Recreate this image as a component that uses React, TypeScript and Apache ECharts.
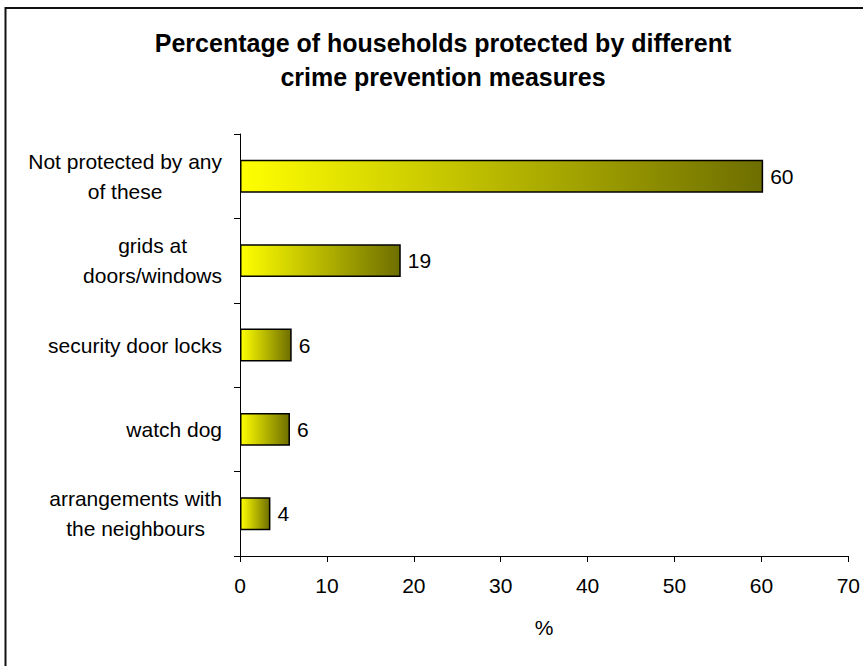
import React, { useEffect, useRef } from "react";
import * as echarts from "echarts";

const categories: string[] = [
  "Not protected by any\nof these",
  "grids at\ndoors/windows",
  "security door locks",
  "watch dog",
  "arrangements with\nthe neighbours",
];
const values: number[] = [60.2, 18.5, 5.95, 5.75, 3.5];
const xTicks = { min: 0, max: 70, interval: 10 };
const titleLines: string[] = [
  "Percentage of households protected by different",
  "crime prevention measures",
];
const xAxisName = "%";

const FONT = "'Liberation Sans', Arial, sans-serif";

export default function App() {
  const ref = useRef<HTMLDivElement>(null);
  useEffect(() => {
    document.body.style.margin = "0";
    const chart = echarts.init(ref.current!, null, { renderer: "svg" });
    const gradient = new echarts.graphic.LinearGradient(0, 0, 1, 0, [
      { offset: 0, color: "#FFFF00" },
      { offset: 1, color: "#6E6E00" },
    ]);
    chart.setOption({
      animation: false,
      backgroundColor: "#ffffff",
      title: {
        text: titleLines.join("\n"),
        left: 443,
        top: 26,
        padding: 0,
        textAlign: "center",
        textStyle: {
          fontFamily: FONT,
          fontSize: 25,
          fontWeight: "bold",
          color: "#000",
          lineHeight: 34,
        },
      },
      graphic: [
        {
          type: "rect",
          shape: { x: 5.5, y: 8, width: 900, height: 700 },
          style: { fill: "none", stroke: "#111", lineWidth: 2 },
          silent: true,
          z: -1,
        },
      ],
      grid: { left: 240, right: 11, top: 134, bottom: 110, containLabel: false },
      xAxis: {
        type: "value",
        min: xTicks.min,
        max: xTicks.max,
        interval: xTicks.interval,
        name: xAxisName,
        nameLocation: "middle",
        nameGap: 61,
        nameTextStyle: { fontFamily: FONT, fontSize: 21, color: "#000" },
        splitLine: { show: false },
        axisLine: { show: true, lineStyle: { color: "#000", width: 1 } },
        axisTick: { show: true, length: 6, lineStyle: { color: "#000" } },
        axisLabel: { fontFamily: FONT, fontSize: 21, color: "#000", margin: 19 },
      },
      yAxis: {
        type: "category",
        inverse: true,
        data: categories,
        axisLine: { show: true, lineStyle: { color: "#000", width: 1 } },
        axisTick: { show: true, length: 6, alignWithLabel: false, lineStyle: { color: "#000" } },
        axisLabel: {
          margin: 18,
          color: "#000",
          fontFamily: FONT,
          fontSize: 21,
          formatter: (v: string) =>
            v
              .split("\n")
              .map((l) => `{c|${l}}`)
              .join("\n"),
          rich: {
            c: {
              align: "center",
              fontFamily: FONT,
              fontSize: 21,
              lineHeight: 30,
              color: "#000",
            },
          },
        },
      },
      series: [
        {
          type: "bar",
          data: values,
          barCategoryGap: "61%",
          itemStyle: { color: gradient, borderColor: "#000", borderWidth: 1.5 },
          label: {
            show: true,
            position: "right",
            distance: 7,
            fontFamily: FONT,
            fontSize: 21,
            color: "#000",
            formatter: (p: any) => String(Math.round(p.value)),
          },
        },
      ],
    });
    return () => chart.dispose();
  }, []);
  return (
    <div
      ref={ref}
      style={{ position: "fixed", left: 0, top: 0, width: 863, height: 666 }}
    />
  );
}
